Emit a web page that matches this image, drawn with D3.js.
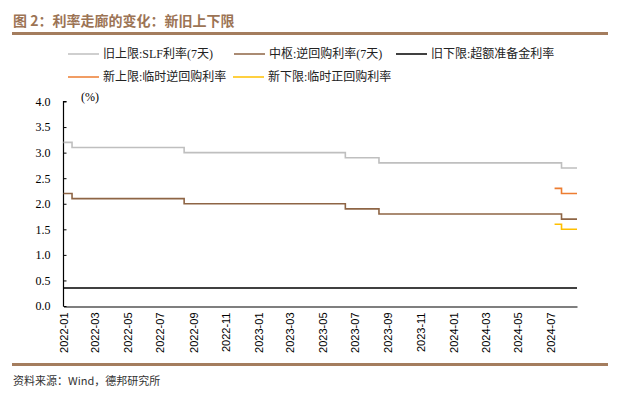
<!DOCTYPE html>
<html>
<head>
<meta charset="utf-8">
<script src="https://cdn.jsdelivr.net/npm/d3@7"></script>
<style>
body{margin:0;background:#fff}
text{font-family:"Liberation Serif","Noto Sans CJK SC",serif}
</style>
</head>
<body>
<div id="chart"></div>
<script>
// step series: change dates + values
const endDate="2024-08-20"
const oldDates=["2022-01-01","2022-01-17","2022-08-15","2023-06-13","2023-08-15","2024-07-22",endDate]
const slfValues=[3.2,3.1,3.0,2.9,2.8,2.7,2.7]
const repoValues=[2.2,2.1,2.0,1.9,1.8,1.7,1.7]
const reserveDates=["2022-01-01",endDate]
const reserveValues=[0.35,0.35]
const newDates=["2024-07-09","2024-07-22",endDate]
const newUpperValues=[2.3,2.2,2.2]
const newLowerValues=[1.6,1.5,1.5]

const yTicks=[0,0.5,1,1.5,2,2.5,3,3.5,4]
const xTickLabels=["2022-01","2022-03","2022-05","2022-07","2022-09","2022-11","2023-01","2023-03","2023-05","2023-07","2023-09","2023-11","2024-01","2024-03","2024-05","2024-07"]

const legendNames=["旧上限:SLF利率(7天)","中枢:逆回购利率(7天)","旧下限:超额准备金利率","新上限:临时逆回购利率","新下限:临时正回购利率"]
const colors=["#bfbfbf","#8e6545","#000000","#ed7d31","#ffc000"]

const width=621
const height=397
const parse=d3.timeParse("%Y-%m-%d")
const parseMonth=d3.timeParse("%Y-%m")

function toPoints(dates,values){
return dates.map((d,i)=>({date:parse(d),value:values[i]}))
}

const series=[
{name:legendNames[0],color:colors[0],points:toPoints(oldDates,slfValues)},
{name:legendNames[1],color:colors[1],points:toPoints(oldDates,repoValues)},
{name:legendNames[2],color:colors[2],points:toPoints(reserveDates,reserveValues)},
{name:legendNames[3],color:colors[3],points:toPoints(newDates,newUpperValues)},
{name:legendNames[4],color:colors[4],points:toPoints(newDates,newLowerValues)}
]

const svg=d3.select("#chart")
.append("svg")
.attr("width",width)
.attr("height",height)

// title + rules
svg.append("text")
.attr("x",13)
.attr("y",26)
.attr("font-size",14)
.attr("font-weight","bold")
.attr("fill","#9c7455")
.style("font-family","'Noto Sans CJK SC',sans-serif")
.text("图 2：利率走廊的变化：新旧上下限")

svg.append("rect").attr("x",12).attr("y",32).attr("width",596).attr("height",3).attr("fill","#a47d5e")
svg.append("rect").attr("x",12).attr("y",363).attr("width",596).attr("height",3).attr("fill","#a47d5e")

svg.append("text")
.attr("x",13)
.attr("y",385)
.attr("font-size",11)
.attr("fill","#333")
.style("font-family","'Noto Sans CJK SC',sans-serif")
.text("资料来源：Wind，德邦研究所")

const x=d3.scaleTime()
.domain([parse("2022-01-01"),parse(endDate)])
.range([63.5,577])

const y=d3.scaleLinear()
.domain([0,4])
.range([306,101.5])

// y axis, ticks inward
const yAxis=svg.append("g")
.attr("transform","translate(63.5,0)")
.call(d3.axisRight(y).tickValues(yTicks).tickSize(3).tickFormat(d3.format(".1f")))
yAxis.select(".domain").attr("stroke","#000").attr("stroke-width",1.2).attr("d","M3,101.5H0V306.5")
yAxis.selectAll("text")
.attr("x",-13)
.attr("text-anchor","end")
.attr("font-size",12)
.attr("fill","#000")
.style("font-family","'Liberation Serif',serif")

svg.append("text")
.attr("x",81)
.attr("y",101)
.attr("font-size",12)
.text("(%)")

// x axis
const xAxis=svg.append("g")
.attr("transform","translate(0,306.5)")
.call(d3.axisBottom(x).tickValues(xTickLabels.map(parseMonth)).tickSize(0).tickFormat(d3.timeFormat("%Y-%m")))
xAxis.select(".domain").attr("stroke","#000").attr("stroke-width",1.2)
xAxis.selectAll("text")
.attr("transform","rotate(-90)")
.attr("x",-6)
.attr("y",0)
.attr("dy","0.35em")
.attr("text-anchor","end")
.attr("font-size",11)
.attr("fill","#000")
.style("font-family","'Liberation Sans',Arial,sans-serif")

const line=d3.line()
.x(d=>x(d.date))
.y(d=>y(d.value))
.curve(d3.curveStepAfter)

svg.append("g")
.selectAll("path")
.data(series)
.enter()
.append("path")
.attr("d",d=>line(d.points))
.attr("fill","none")
.attr("stroke",d=>d.color)
.attr("stroke-width",d=>d.color==="#000000"?1.5:1.6)

// legend
const legendPos=[[68,54],[234,54],[396,54],[68,77],[233,77]]
const legend=svg.append("g")
.selectAll("g")
.data(series)
.enter()
.append("g")
.attr("transform",(d,i)=>`translate(${legendPos[i][0]},${legendPos[i][1]})`)

legend.append("line")
.attr("x1",0)
.attr("x2",31)
.attr("stroke",d=>d.color)
.attr("stroke-width",1.5)

legend.append("text")
.attr("x",35)
.attr("dy","0.35em")
.attr("font-size",12)
.attr("fill","#222")
.text(d=>d.name)
</script>
</body>
</html>
